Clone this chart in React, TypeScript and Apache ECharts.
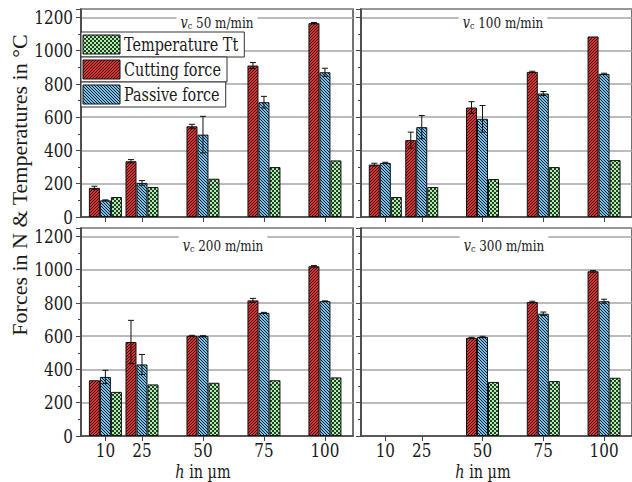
import React, { useEffect, useRef } from 'react';
import * as echarts from 'echarts';

// ---- data ----
const hValues = [10, 25, 50, 75, 100];
const xTickValues = [10, 25, 50, 75, 100];
const yTickValues = [0, 200, 400, 600, 800, 1000, 1200];
const speedLabels = ['50', '100', '200', '300'];
const legendNames = ['Temperature Tt', 'Cutting force', 'Passive force'];

const cutting50 = [175, 335, 545, 910, 1165];
const cutting50Err = [10, 10, 12, 18, 4];
const passive50 = [100, 205, 495, 690, 870];
const passive50Err = [3, 14, 110, 35, 24];
const temp50 = [120, 180, 230, 300, 340];

const cutting100 = [315, 462, 658, 872, 1085];
const cutting100Err = [8, 48, 35, 4, 0];
const passive100 = [325, 540, 590, 742, 860];
const passive100Err = [4, 70, 80, 12, 4];
const temp100 = [120, 180, 228, 300, 342];

const cutting200 = [335, 565, 602, 815, 1020];
const cutting200Err = [0, 130, 3, 12, 4];
const passive200 = [355, 430, 600, 740, 810];
const passive200Err = [40, 60, 3, 3, 2];
const temp200 = [265, 310, 320, 335, 352];

const cutting300 = [null, null, 590, 805, 990];
const cutting300Err = [0, 0, 3, 5, 5];
const passive300 = [null, null, 595, 735, 810];
const passive300Err = [0, 0, 4, 10, 12];
const temp300 = [null, null, 325, 330, 350];

const cuttingSets = [cutting50, cutting100, cutting200, cutting300];
const cuttingErrSets = [cutting50Err, cutting100Err, cutting200Err, cutting300Err];
const passiveSets = [passive50, passive100, passive200, passive300];
const passiveErrSets = [passive50Err, passive100Err, passive200Err, passive300Err];
const tempSets = [temp50, temp100, temp200, temp300];

// ---- styling ----
const TITLE_FONT = 'serif';
const FONT = 'DejaVu Serif';
const SQ = 0.8; // horizontal squeeze to approach Times proportions
const INK = '#1a1a1a';
const GRIDS = [
  { left: 81, top: 9 },
  { left: 361, top: 9 },
  { left: 81, top: 228 },
  { left: 361, top: 228 },
];
const TITLE_POS = [
  [217, 22],
  [503, 22],
  [223, 245],
  [504, 245],
];

function makePattern(size: number, bg: string, fg: string, isDark: (x: number, y: number) => boolean) {
  const c = document.createElement('canvas');
  c.width = size;
  c.height = size;
  const ctx = c.getContext('2d')!;
  ctx.fillStyle = bg;
  ctx.fillRect(0, 0, size, size);
  ctx.fillStyle = fg;
  for (let y = 0; y < size; y++) {
    for (let x = 0; x < size; x++) {
      if (isDark(x, y)) ctx.fillRect(x, y, 1, 1);
    }
  }
  return { image: c, repeat: 'repeat', imageWidth: size, imageHeight: size } as any;
}

let measureCtx: CanvasRenderingContext2D | null = null;
function measure(text: string, size: number, italic = false) {
  if (!measureCtx) measureCtx = document.createElement('canvas').getContext('2d');
  measureCtx!.font = (italic ? 'italic ' : '') + size + 'px "' + FONT + '"';
  return measureCtx!.measureText(text).width * SQ;
}

function txt(x: number, y: number, text: string, size: number, align: string, valign: string, extra: any = {}) {
  return {
    type: 'text',
    z: 12,
    x,
    y,
    scaleX: SQ,
    scaleY: 1,
    style: {
      text,
      fontFamily: FONT,
      fontSize: size,
      fill: INK,
      align,
      verticalAlign: valign,
      ...extra,
    },
  };
}

export default function App() {
  const ref = useRef<HTMLDivElement>(null);

  useEffect(() => {
    if (!ref.current) return;
    const chart = echarts.init(ref.current, undefined, { renderer: 'svg' });

    const dark = '#1a1a1a';
    const redPat = makePattern(3, '#e82e2e', dark, (x, y) => (x + y) % 3 === 2);
    const bluePat = makePattern(3, '#74c2f2', dark, (x, y) => (x - y + 6) % 3 === 0);
    const greenPat = makePattern(4, '#a8f2a8', '#2a3a2a', (x, y) => ((x >> 1) + (y >> 1)) % 2 === 1);
    const patterns: Record<string, any> = {
      'Temperature Tt': greenPat,
      'Cutting force': redPat,
      'Passive force': bluePat,
    };

    const grid = GRIDS.map((g) => ({
      left: g.left,
      top: g.top,
      width: 272,
      height: 208,
      show: true,
      borderColor: '#444',
      borderWidth: 1.5,
      backgroundColor: '#fff',
    }));

    const xAxis = GRIDS.map((_, i) => ({
      type: 'value',
      gridIndex: i,
      min: 0,
      max: 111.5,
      axisLine: { show: true, lineStyle: { color: '#444', width: 1.5 } },
      axisTick: { show: true, inside: false, length: 5, customValues: xTickValues, lineStyle: { color: '#444' } },
      axisLabel: { show: false },
      splitLine: { show: false },
    }));

    const yAxis = GRIDS.map((_, i) => ({
      type: 'value',
      gridIndex: i,
      min: 0,
      max: 1250,
      interval: 200,
      axisLine: { show: true, lineStyle: { color: '#444', width: 1.5 } },
      axisTick: { show: true, inside: false, length: 5, lineStyle: { color: '#444' } },
      minorTick: { show: true, splitNumber: 2, length: 3, lineStyle: { color: '#444' } },
      axisLabel: { show: false },
      splitLine: { show: true, lineStyle: { color: '#a5a5a5', width: 1.5 } },
    }));

    const series: any[] = [];
    const toPoints = (vals: (number | null)[]) =>
      hValues.map((h, k) => (vals[k] == null ? null : [h, vals[k]])).filter((p) => p !== null);

    const errRender = (params: any, api: any) => {
      const x = api.value(0);
      const y = api.value(1);
      const e = api.value(2);
      const off = api.value(3);
      if (!e) return null;
      const top = api.coord([x, y + e]);
      const bot = api.coord([x, y - e]);
      const cx = top[0] + off;
      const st = { stroke: '#111', lineWidth: 1 };
      return {
        type: 'group',
        children: [
          { type: 'line', shape: { x1: cx, y1: top[1], x2: cx, y2: bot[1] }, style: st },
          { type: 'line', shape: { x1: cx - 3, y1: top[1], x2: cx + 3, y2: top[1] }, style: st },
          { type: 'line', shape: { x1: cx - 3, y1: bot[1], x2: cx + 3, y2: bot[1] }, style: st },
        ],
      };
    };

    for (let i = 0; i < 4; i++) {
      const common = {
        type: 'bar',
        xAxisIndex: i,
        yAxisIndex: i,
        barWidth: 11,
        barGap: '0%',
        z: 2,
        emphasis: { disabled: true },
      };
      series.push({
        ...common,
        name: 'Cutting force',
        data: toPoints(cuttingSets[i]),
        itemStyle: { color: redPat, borderColor: '#111', borderWidth: 1 },
      });
      series.push({
        ...common,
        name: 'Passive force',
        data: toPoints(passiveSets[i]),
        itemStyle: { color: bluePat, borderColor: '#111', borderWidth: 1 },
      });
      series.push({
        ...common,
        name: 'Temperature Tt',
        data: toPoints(tempSets[i]),
        itemStyle: { color: greenPat, borderColor: '#111', borderWidth: 1 },
      });
      const errData = (vals: (number | null)[], errs: number[], off: number) =>
        hValues
          .map((h, k) => (vals[k] == null ? null : [h, vals[k], errs[k], off]))
          .filter((p) => p !== null);
      series.push({
        type: 'custom',
        name: 'err-c' + i,
        xAxisIndex: i,
        yAxisIndex: i,
        z: 4,
        renderItem: errRender,
        data: errData(cuttingSets[i], cuttingErrSets[i], -11),
      });
      series.push({
        type: 'custom',
        name: 'err-p' + i,
        xAxisIndex: i,
        yAxisIndex: i,
        z: 4,
        renderItem: errRender,
        data: errData(passiveSets[i], passiveErrSets[i], 0),
      });
    }

    chart.setOption({
      animation: false,
      backgroundColor: '#fff',
      grid,
      xAxis,
      yAxis,
      series,
    } as any);

    // ---- texts & legend, positioned through the axes' own scales ----
    const graphic: any[] = [];
    const px = (g: number, v: [number, number]) =>
      chart.convertToPixel({ xAxisIndex: g, yAxisIndex: g } as any, v) as number[];

    // y tick labels (left panels)
    [0, 2].forEach((g) =>
      yTickValues.forEach((v) => {
        const p = px(g, [0, v]);
        graphic.push(txt(p[0] - 8, p[1], String(v), 19, 'right', 'middle'));
      })
    );
    // x tick labels (bottom panels)
    [2, 3].forEach((g) =>
      xTickValues.forEach((h) => {
        const p = px(g, [h, 0]);
        graphic.push(txt(p[0], p[1] + 5, String(h), 19, 'center', 'top'));
      })
    );

    // legend (rows with boxes sized to their text)
    legendNames.forEach((name, k) => {
      const y0 = 32 + k * 25;
      const w = 43 + measure(name, 18) + 6;
      graphic.push({
        type: 'rect',
        z: 10,
        shape: { x: 81, y: y0, width: w, height: 25 },
        style: { fill: '#fff', stroke: '#333', lineWidth: 1 },
      });
      graphic.push({
        type: 'rect',
        z: 11,
        shape: { x: 83, y: y0 + 3, width: 37, height: 19 },
        style: { fill: patterns[name], stroke: '#111', lineWidth: 1 },
      });
      graphic.push(txt(124, y0 + 13, name, 18, 'left', 'middle'));
    });

    // panel titles: v_c NN m/min
    speedLabels.forEach((s, i) => {
      const rest = ' ' + s + ' m/min';
      const wv = measure('v', 16, true);
      const wc = measure('c', 10);
      const wr = measure(rest, 15);
      const total = wv + wc + wr;
      const x0 = TITLE_POS[i][0] - total / 2;
      const y = TITLE_POS[i][1];
      graphic.push({
        type: 'rect',
        z: 10,
        shape: { x: x0 - 4, y: y - 9, width: total + 8, height: 18 },
        style: { fill: '#fff' },
      });
      graphic.push(txt(x0, y, 'v', 16, 'left', 'middle', { fontStyle: 'italic' }));
      graphic.push(txt(x0 + wv, y + 4, 'c', 10, 'left', 'middle'));
      graphic.push(txt(x0 + wv + wc, y, rest, 15, 'left', 'middle'));
    });

    // x axis titles: h in µm
    [203, 483].forEach((cx) => {
      const wh = measure('h', 18, true);
      const wr = measure(' in µm', 18);
      const x0 = cx - (wh + wr) / 2;
      graphic.push(txt(x0, 471.5, 'h', 18, 'left', 'middle', { fontStyle: 'italic' }));
      graphic.push(txt(x0 + wh, 471.5, ' in µm', 18, 'left', 'middle'));
    });

    // y axis title
    graphic.push({
      type: 'text',
      z: 12,
      x: 19,
      y: 185,
      rotation: Math.PI / 2,
      style: {
        text: 'Forces in N & Temperatures in °C',
        align: 'center',
        verticalAlign: 'middle',
        fontFamily: TITLE_FONT,
        fontSize: 22,
        fill: INK,
      },
    });

    chart.setOption({ graphic } as any);

    return () => chart.dispose();
  }, []);

  return <div ref={ref} style={{ position: 'absolute', left: 0, top: 0, width: 632, height: 482 }} />;
}
